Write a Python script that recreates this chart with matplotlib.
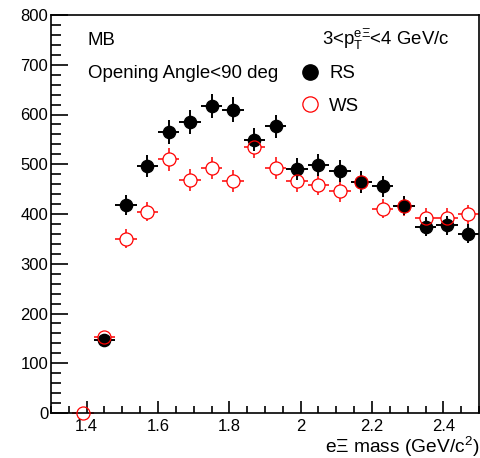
import numpy as np
import matplotlib
matplotlib.use("Agg")
import matplotlib.pyplot as plt
from matplotlib.lines import Line2D
from matplotlib.ticker import MultipleLocator

plt.rcParams['font.family'] = ['Liberation Sans', 'DejaVu Sans']
plt.rcParams['mathtext.fontset'] = 'custom'
plt.rcParams['mathtext.rm'] = 'Liberation Sans'
plt.rcParams['mathtext.it'] = 'Liberation Sans'

# bin centres (GeV/c^2), bin width 0.06
rs_mass = [1.45, 1.51, 1.57, 1.63, 1.69, 1.75, 1.81, 1.87, 1.93, 1.99,
           2.05, 2.11, 2.17, 2.23, 2.29, 2.35, 2.41, 2.47]
rs_counts = [147, 418, 496, 564, 585, 617, 610, 549, 576, 490,
             498, 487, 464, 456, 417, 374, 377, 360]
rs_err = [12, 20, 22, 24, 24, 25, 25, 23, 24, 22,
          22, 22, 22, 21, 20, 19, 19, 19]

ws_mass = [1.39, 1.45, 1.51, 1.57, 1.63, 1.69, 1.75, 1.81, 1.87, 1.93, 1.99,
           2.05, 2.11, 2.17, 2.23, 2.29, 2.35, 2.41, 2.47]
ws_counts = [0, 152, 350, 405, 510, 469, 493, 466, 535, 493, 466,
             459, 446, 464, 411, 416, 392, 392, 399]
ws_err = [0, 12, 19, 20, 23, 22, 22, 22, 23, 22, 22,
          21, 21, 22, 20, 20, 20, 20, 20]

half_bin = 0.03
fs = 13.4

fig = plt.figure(figsize=(4.81, 4.58), dpi=100)
ax = fig.add_axes([51/481, 45/458, 428/481, 398/458])

# WS error bars, then white interior so bars don't cross the open circle
ax.errorbar(ws_mass, ws_counts, xerr=half_bin, yerr=ws_err, fmt='none',
            ecolor='red', elinewidth=1.1, capsize=0, zorder=1, clip_on=False)
ax.plot(ws_mass, ws_counts, 'o', ms=9.4, mfc='white', mec='none',
        zorder=1.5, clip_on=False)
# RS
ax.errorbar(rs_mass, rs_counts, xerr=half_bin, yerr=rs_err, fmt='o',
            color='black', ms=8.8, elinewidth=1.4, capsize=0, zorder=3,
            clip_on=False)
# WS open circles on top
ax.plot(ws_mass, ws_counts, 'o', ms=9.4, mfc='none', mec='red', mew=0.9,
        zorder=4, clip_on=False)

ax.set_xlim(1.3, 2.5)
ax.set_ylim(0, 800)
ax.xaxis.set_major_locator(MultipleLocator(0.2))
ax.xaxis.set_minor_locator(MultipleLocator(0.05))
ax.yaxis.set_major_locator(MultipleLocator(100))
ax.yaxis.set_minor_locator(MultipleLocator(20))
ax.xaxis.set_major_formatter(matplotlib.ticker.FuncFormatter(lambda v, p: f"{v:g}"))

ax.tick_params(axis='both', which='both', direction='in', top=False, right=False,
               labelsize=12, width=1.2)
ax.tick_params(axis='y', which='major', length=12, pad=2)
ax.tick_params(axis='y', which='minor', length=7)
ax.tick_params(axis='x', which='major', length=9, pad=4)
ax.tick_params(axis='x', which='minor', length=5)
for s in ax.spines.values():
    s.set_linewidth(1.2)

ax.set_xlabel(r'e$\Xi$ mass (GeV/c$^{2}$)', fontsize=13.8, ha='right')
ax.xaxis.set_label_coords(1.0, -0.055)

ax.text(0.086, 0.925, 'MB', transform=ax.transAxes, fontsize=fs, va='baseline')
ax.text(0.086, 0.842, 'Opening Angle<90 deg', transform=ax.transAxes,
        fontsize=fs, va='baseline')
ax.text(0.633, 0.925, r'3<p$_{\mathrm{T}}^{\mathrm{e}\Xi}$<4 GeV/c',
        transform=ax.transAxes, fontsize=fs, va='baseline')

handles = [Line2D([], [], ls='none', marker='o', ms=11, color='black'),
           Line2D([], [], ls='none', marker='o', ms=11, mfc='none', mec='red', mew=0.9)]
ax.legend(handles, ['RS', 'WS'], loc='upper left', bbox_to_anchor=(0.565, 0.893),
          frameon=False, fontsize=fs, handlelength=1.0, handletextpad=0.55,
          labelspacing=0.85, borderaxespad=0)

fig.savefig('out.png', dpi=100)
